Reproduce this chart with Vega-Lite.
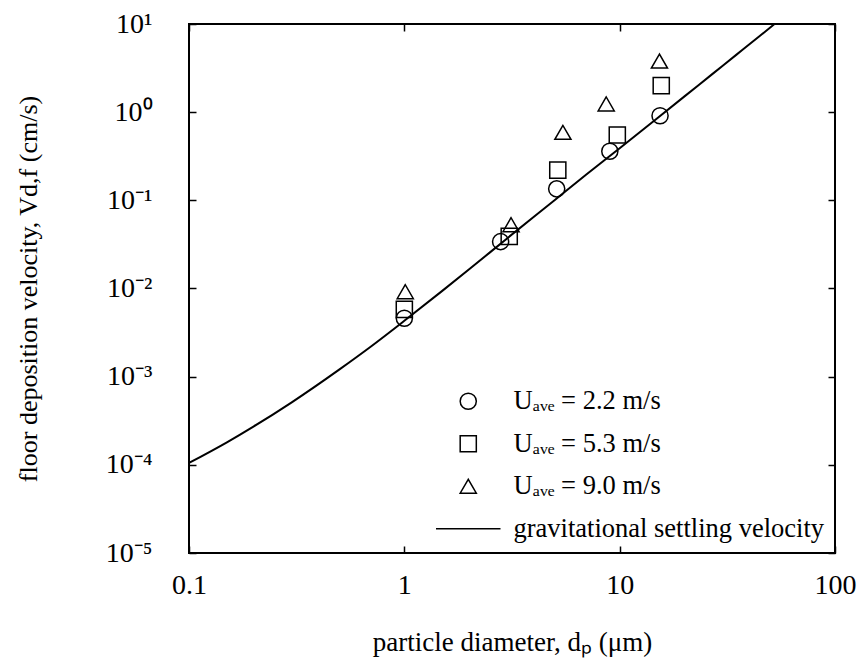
{
  "$schema": "https://vega.github.io/schema/vega-lite/v6.json",
  "width": 646,
  "height": 529,
  "autosize": {"type": "none"},
  "padding": {"left": 189, "top": 24, "right": 25, "bottom": 117},
  "background": "white",
  "config": {
    "font": "Liberation Serif",
    "view": {"stroke": "black", "strokeWidth": 2},
    "axis": {"grid": false, "domain": false, "ticks": true, "tickColor": "black", "tickSize": -7, "tickWidth": 1.5, "labelColor": "black", "titleColor": "black", "labelFont": "Liberation Serif", "titleFont": "Liberation Serif", "titleFontWeight": "normal", "labelFlush": false, "zindex": 1}
  },
  "datasets": {
    "pts": [
      {"d": 1.0, "v": 0.0046, "series": "Uₐᵥₑ = 2.2 m/s"},
      {"d": 2.8, "v": 0.034, "series": "Uₐᵥₑ = 2.2 m/s"},
      {"d": 5.1, "v": 0.135, "series": "Uₐᵥₑ = 2.2 m/s"},
      {"d": 9.0, "v": 0.36, "series": "Uₐᵥₑ = 2.2 m/s"},
      {"d": 15.4, "v": 0.91, "series": "Uₐᵥₑ = 2.2 m/s"},
      {"d": 1.0, "v": 0.0058, "series": "Uₐᵥₑ = 5.3 m/s"},
      {"d": 3.07, "v": 0.039, "series": "Uₐᵥₑ = 5.3 m/s"},
      {"d": 5.16, "v": 0.22, "series": "Uₐᵥₑ = 5.3 m/s"},
      {"d": 9.75, "v": 0.55, "series": "Uₐᵥₑ = 5.3 m/s"},
      {"d": 15.6, "v": 2.0, "series": "Uₐᵥₑ = 5.3 m/s"},
      {"d": 1.01, "v": 0.0092, "series": "Uₐᵥₑ = 9.0 m/s"},
      {"d": 3.13, "v": 0.053, "series": "Uₐᵥₑ = 9.0 m/s"},
      {"d": 5.45, "v": 0.59, "series": "Uₐᵥₑ = 9.0 m/s"},
      {"d": 8.66, "v": 1.24, "series": "Uₐᵥₑ = 9.0 m/s"},
      {"d": 15.3, "v": 3.8, "series": "Uₐᵥₑ = 9.0 m/s"}
    ],
    "curve": [
      {"d": 0.1, "v": 0.000105},
      {"d": 0.15, "v": 0.00018},
      {"d": 0.2, "v": 0.000273},
      {"d": 0.3, "v": 0.000512},
      {"d": 0.5, "v": 0.00121},
      {"d": 0.7, "v": 0.0022},
      {"d": 1.0, "v": 0.0043},
      {"d": 1.5, "v": 0.0094},
      {"d": 2.0, "v": 0.0165},
      {"d": 3.0, "v": 0.037},
      {"d": 5.0, "v": 0.101},
      {"d": 7.0, "v": 0.196},
      {"d": 10, "v": 0.39},
      {"d": 15, "v": 0.86},
      {"d": 20, "v": 1.51},
      {"d": 27, "v": 2.72},
      {"d": 35, "v": 4.52},
      {"d": 45, "v": 7.4},
      {"d": 52.4, "v": 10}
    ]
  },
  "layer": [
    {
      "data": {"name": "curve"},
      "mark": {"type": "line", "color": "black", "strokeWidth": 2, "clip": true, "interpolate": "monotone"},
      "encoding": {
        "x": {"field": "d", "type": "quantitative", "scale": {"type": "log", "domain": [0.1, 100]},
          "axis": {"orient": "bottom", "values": [0.1, 1, 10, 100], "labelExpr": "format(datum.value, '~g')", "labelFontSize": 28, "labelPadding": 25, "title": "particle diameter, dₚ (μm)", "titleFontSize": 27, "titlePadding": 30}},
        "y": {"field": "v", "type": "quantitative", "scale": {"type": "log", "domain": [0.00001, 10]},
          "axis": {"orient": "left", "values": [0.00001, 0.0001, 0.001, 0.01, 0.1, 1, 10], "labelExpr": "datum.value >= 9 ? '10¹' : datum.value >= 0.9 ? '10⁰' : datum.value >= 0.09 ? '10⁻¹' : datum.value >= 0.009 ? '10⁻²' : datum.value >= 0.0009 ? '10⁻³' : datum.value >= 0.00009 ? '10⁻⁴' : '10⁻⁵'", "labelFontSize": 28, "labelPadding": 44, "title": "floor deposition velocity, Vd,f (cm/s)", "titleFontSize": 26, "titlePadding": 64}}
      }
    },
    {
      "data": {"name": "pts"},
      "mark": {"type": "point", "filled": false, "stroke": "black", "strokeWidth": 1.5, "size": 260, "opacity": 1},
      "encoding": {
        "x": {"field": "d", "type": "quantitative", "axis": {"orient": "top", "values": [0.1, 1, 10, 100], "labels": false, "title": null}},
        "y": {"field": "v", "type": "quantitative", "axis": {"orient": "right", "values": [0.00001, 0.0001, 0.001, 0.01, 0.1, 1, 10], "labels": false, "title": null}},
        "shape": {"field": "series", "type": "nominal",
          "scale": {"domain": ["Uₐᵥₑ = 2.2 m/s", "Uₐᵥₑ = 5.3 m/s", "Uₐᵥₑ = 9.0 m/s", "gravitational settling velocity"], "range": ["circle", "square", "triangle-up", "M-4,0H4"]},
          "legend": {"title": null, "orient": "bottom-right", "offset": 10, "padding": 0, "labelFontSize": 26.5, "labelFont": "Liberation Serif", "labelColor": "black", "symbolSize": 260, "symbolStrokeWidth": 1.5, "symbolStrokeColor": "black", "symbolFillColor": "transparent", "symbolOpacity": 1, "rowPadding": 15.5, "labelOffset": 32, "labelLimit": 400}
        }
      }
    }
  ],
  "resolve": {"axis": {"x": "independent", "y": "independent"}}
}
